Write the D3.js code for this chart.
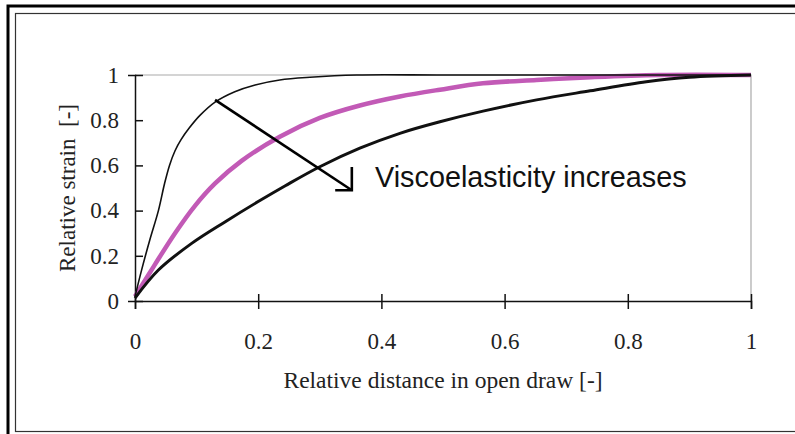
<!DOCTYPE html>
<html>
<head>
<style>
  body { margin: 0; background: #fff; }
  svg text { font-family: "Liberation Serif", "Times New Roman", serif; fill: #222; }
</style>
</head>
<body>
<div class="graph"></div>
<script src="https://cdn.jsdelivr.net/npm/d3@7"></script>
<script>
    // values
    var xTicks = [0, 0.2, 0.4, 0.6, 0.8, 1]
    var yTicks = [0, 0.2, 0.4, 0.6, 0.8, 1]

    var fastX = [0, 0.011, 0.024, 0.038, 0.048, 0.056, 0.065, 0.075, 0.088, 0.105, 0.13, 0.162, 0.195, 0.235, 0.284, 0.36, 0.5, 0.7, 1]
    var fastY = [0.02, 0.14, 0.27, 0.40, 0.52, 0.60, 0.665, 0.715, 0.765, 0.82, 0.88, 0.926, 0.956, 0.978, 0.99, 1, 1, 1, 1]

    var midX = [0, 0.032, 0.065, 0.097, 0.13, 0.173, 0.235, 0.30, 0.365, 0.43, 0.495, 0.565, 0.652, 0.74, 0.85, 1]
    var midY = [0.02, 0.16, 0.30, 0.42, 0.52, 0.62, 0.727, 0.81, 0.865, 0.905, 0.935, 0.963, 0.978, 0.99, 1, 1]

    var slowX = [0, 0.038, 0.092, 0.146, 0.2, 0.244, 0.30, 0.365, 0.43, 0.495, 0.565, 0.652, 0.739, 0.83, 0.90, 1]
    var slowY = [0.013, 0.137, 0.255, 0.35, 0.44, 0.51, 0.594, 0.676, 0.742, 0.793, 0.84, 0.89, 0.93, 0.97, 0.99, 1]

    // annotation arrow, in data units
    var arrowShaft = [[0.13, 0.89], [0.352, 0.49]]
    var arrowHead = [[0.352, 0.593], [0.352, 0.49], [0.325, 0.49]]
    var note = 'Viscoelasticity increases'

    var width = 795,
        height = 434

    var svg = d3.select('.graph').append('svg')
        .attr('width', width)
        .attr('height', height)

    // page frame
    svg.append('rect')
        .attr('x', 8).attr('y', 6)
        .attr('width', 900).attr('height', 500)
        .style('fill', 'none').style('stroke', '#000').style('stroke-width', 3)
    svg.append('rect')
        .attr('x', 15.5).attr('y', 13.5)
        .attr('width', 900).attr('height', 418)
        .style('fill', 'none').style('stroke', '#333').style('stroke-width', 1.2)

    var x = d3.scaleLinear().domain([0, 1]).range([135, 751])
    var y = d3.scaleLinear().domain([0, 1]).range([301, 75])

    // plot area outline (top and right)
    svg.append('path')
        .attr('d', 'M' + x(0) + ',' + y(1) + 'H' + x(1) + 'V' + y(0))
        .style('fill', 'none').style('stroke', '#aaa').style('stroke-width', 1.2)

    var xAxis = svg.append('g')
        .attr('transform', 'translate(0,' + y(0) + ')')
        .call(d3.axisBottom(x).tickValues(xTicks).tickFormat(d3.format('~g')).tickSize(8).tickPadding(24))
    xAxis.selectAll('.tick line').attr('y1', -7)

    var yAxis = svg.append('g')
        .attr('transform', 'translate(' + x(0) + ',0)')
        .call(d3.axisLeft(y).tickValues(yTicks).tickFormat(d3.format('~g')).tickSize(7).tickPadding(9))
    yAxis.selectAll('.tick line').attr('x2', 8)

    svg.selectAll('.domain').style('stroke', '#111').style('stroke-width', 1.5)
    svg.selectAll('.tick line').style('stroke', '#111').style('stroke-width', 1.5)
    svg.selectAll('.tick text')
        .style('font-family', '"Liberation Serif", serif')
        .style('font-size', '23px')
        .style('fill', '#222')

    svg.append('text')
        .attr('x', (x(0) + x(1)) / 2)
        .attr('y', 388)
        .attr('text-anchor', 'middle')
        .style('font-size', '23.5px')
        .text('Relative distance in open draw [-]')

    svg.append('text')
        .attr('transform', 'translate(75,' + (y(0) + y(1)) / 2 + ') rotate(-90)')
        .attr('text-anchor', 'middle')
        .style('font-size', '23px')
        .style('white-space', 'pre')
        .text('Relative strain  [-]')

    var line = d3.line()
        .x(function (d) { return x(d[0]) })
        .y(function (d) { return y(d[1]) })
        .curve(d3.curveCatmullRom.alpha(0.5))

    function pts(xs, ys) {
        return xs.map(function (v, i) { return [v, ys[i]] })
    }

    svg.append('path')
        .datum(pts(midX, midY))
        .attr('d', line)
        .style('fill', 'none').style('stroke', '#c25ab6').style('stroke-width', 4.5)

    svg.append('path')
        .datum(pts(slowX, slowY))
        .attr('d', line)
        .style('fill', 'none').style('stroke', '#111').style('stroke-width', 3)

    svg.append('path')
        .datum(pts(fastX, fastY))
        .attr('d', line)
        .style('fill', 'none').style('stroke', '#111').style('stroke-width', 1.6)

    var straight = d3.line()
        .x(function (d) { return x(d[0]) })
        .y(function (d) { return y(d[1]) })

    svg.append('path')
        .datum(arrowShaft)
        .attr('d', straight)
        .style('fill', 'none').style('stroke', '#000').style('stroke-width', 2.6)
    svg.append('path')
        .datum(arrowHead)
        .attr('d', straight)
        .style('fill', 'none').style('stroke', '#000').style('stroke-width', 2.6)

    svg.append('text')
        .attr('x', 375)
        .attr('y', 187)
        .style('font-family', '"Liberation Sans", Arial, sans-serif')
        .style('font-size', '28.8px')
        .style('fill', '#111')
        .text(note)
</script>
</body>
</html>
